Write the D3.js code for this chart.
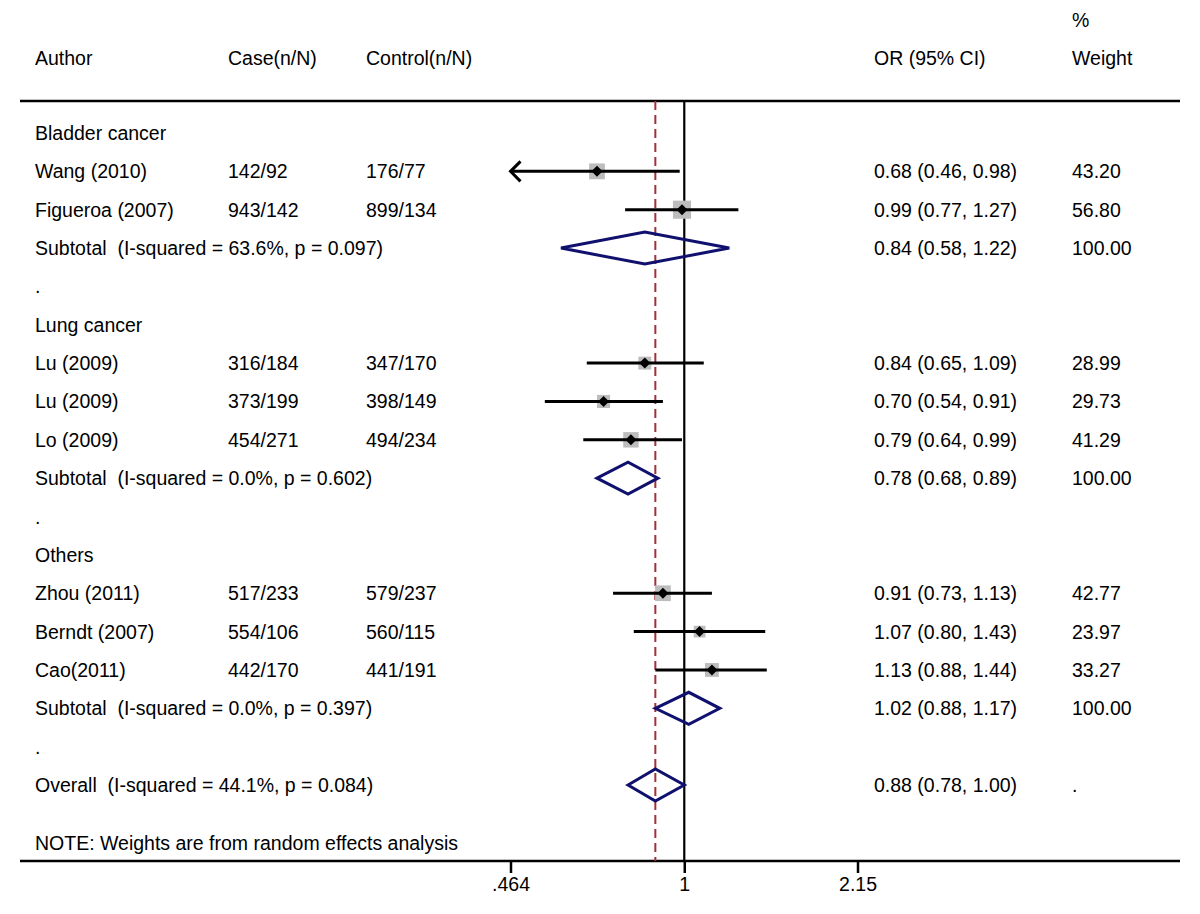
<!DOCTYPE html>
<html>
<head>
<meta charset="utf-8">
<script src="https://cdn.jsdelivr.net/npm/d3@7"></script>
<style>
  html, body { margin: 0; padding: 0; background: #fff; }
  svg text { font-family: "Liberation Sans", Arial, Helvetica, sans-serif; white-space: pre; }
</style>
</head>
<body>
<svg id="chart" width="1200" height="914"></svg>
<script>
// ---------- data ----------
const groupNames = ["Bladder cancer", "Lung cancer", "Others"];
const authors = ["Wang (2010)", "Figueroa (2007)", "Lu (2009)", "Lu (2009)", "Lo (2009)", "Zhou (2011)", "Berndt (2007)", "Cao(2011)"];
const studyGroup = [0, 0, 1, 1, 1, 2, 2, 2];
const caseCounts = ["142/92", "943/142", "316/184", "373/199", "454/271", "517/233", "554/106", "442/170"];
const controlCounts = ["176/77", "899/134", "347/170", "398/149", "494/234", "579/237", "560/115", "441/191"];
const studyOR = [0.68, 0.99, 0.84, 0.70, 0.79, 0.91, 1.07, 1.13];
const studyLow = [0.46, 0.77, 0.65, 0.54, 0.64, 0.73, 0.80, 0.88];
const studyHigh = [0.98, 1.27, 1.09, 0.91, 0.99, 1.13, 1.43, 1.44];
const studyWeight = ["43.20", "56.80", "28.99", "29.73", "41.29", "42.77", "23.97", "33.27"];

const subtotalLabels = ["Subtotal  (I-squared = 63.6%, p = 0.097)", "Subtotal  (I-squared = 0.0%, p = 0.602)", "Subtotal  (I-squared = 0.0%, p = 0.397)"];
const subtotalOR = [0.84, 0.78, 1.02];
const subtotalLow = [0.58, 0.68, 0.88];
const subtotalHigh = [1.22, 0.89, 1.17];
const subtotalWeight = ["100.00", "100.00", "100.00"];

const overallLabel = "Overall  (I-squared = 44.1%, p = 0.084)";
const overallOR = 0.88, overallLow = 0.78, overallHigh = 1.00, overallWeight = ".";

const headers = ["Author", "Case(n/N)", "Control(n/N)", "OR (95% CI)", "Weight"];
const tickValues = [0.464, 1, 2.15];
const tickLabels = [".464", "1", "2.15"];
const noteText = "NOTE: Weights are from random effects analysis";

// ---------- layout ----------
const svg = d3.select("#chart");
const fs = 19.5;
const colX = { author: 35, cas: 228, ctrl: 366, ci: 874, wt: 1072 };
const lineTop = 101, lineBottom = 861;

const x = d3.scaleLog().domain([0.464, 2.15]).range([510.5, 857.5]);
const y = d3.scaleLinear().domain([0, 17]).range([133, 785]);
const fmt = d3.format(".2f");
const ciText = (o, l, h) => `${fmt(o)} (${fmt(l)}, ${fmt(h)})`;

// build rows
const rows = [];
let r = 0;
groupNames.forEach((g, gi) => {
  rows.push({ type: "group", row: r++, label: g });
  studyGroup.forEach((sg, i) => {
    if (sg === gi) rows.push({ type: "study", row: r++, i });
  });
  rows.push({ type: "subtotal", row: r++, gi });
  rows.push({ type: "dot", row: r++ });
});
rows.push({ type: "overall", row: r++ });

// box size ~ sqrt(weight)
const boxSide = d3.scaleSqrt().domain([0, 100]).range([0, 24]);

const tOff = 7;
// ---------- headers ----------
const hY = 58 + tOff;
svg.append("text").attr("x", colX.author).attr("y", hY).attr("font-size", fs).text(headers[0]);
svg.append("text").attr("x", colX.cas).attr("y", hY).attr("font-size", fs).text(headers[1]);
svg.append("text").attr("x", colX.ctrl).attr("y", hY).attr("font-size", fs).text(headers[2]);
svg.append("text").attr("x", colX.ci).attr("y", hY).attr("font-size", fs).text(headers[3]);
svg.append("text").attr("x", colX.wt).attr("y", 20 + tOff).attr("font-size", fs).text("%");
svg.append("text").attr("x", colX.wt).attr("y", hY).attr("font-size", fs).text(headers[4]);

// ---------- frame lines ----------
svg.append("line").attr("x1", 20).attr("x2", 1180).attr("y1", lineTop).attr("y2", lineTop)
  .attr("stroke", "#000").attr("stroke-width", 2.5);
svg.append("line").attr("x1", 20).attr("x2", 1180).attr("y1", lineBottom).attr("y2", lineBottom)
  .attr("stroke", "#000").attr("stroke-width", 2.5);

// null line
svg.append("line").attr("x1", x(1)).attr("x2", x(1)).attr("y1", lineTop).attr("y2", lineBottom)
  .attr("stroke", "#000").attr("stroke-width", 2.2);
// overall dashed line
svg.append("line").attr("x1", x(overallOR)).attr("x2", x(overallOR)).attr("y1", lineTop).attr("y2", lineBottom)
  .attr("stroke", "#a0303a").attr("stroke-width", 2).attr("stroke-dasharray", "9,5");

// ---------- axis ----------
const axis = d3.axisBottom(x).tickValues(tickValues).tickFormat((d, i) => tickLabels[i]).tickSize(12).tickPadding(4);
const ax = svg.append("g").attr("transform", `translate(0,${lineBottom})`).call(axis);
ax.select(".domain").remove();
ax.selectAll(".tick line").attr("stroke", "#000").attr("stroke-width", 2.5);
ax.selectAll(".tick text").attr("font-size", fs).attr("font-family", "Liberation Sans, Arial, sans-serif").attr("fill", "#000");

// ---------- rows ----------
function textRow(row, label, cas, ctrl, ci, wt) {
  const yy = y(row) + tOff;
  if (label != null) svg.append("text").attr("x", colX.author).attr("y", yy).attr("font-size", fs).text(label);
  if (cas != null) svg.append("text").attr("x", colX.cas).attr("y", yy).attr("font-size", fs).text(cas);
  if (ctrl != null) svg.append("text").attr("x", colX.ctrl).attr("y", yy).attr("font-size", fs).text(ctrl);
  if (ci != null) svg.append("text").attr("x", colX.ci).attr("y", yy).attr("font-size", fs).text(ci);
  if (wt != null) svg.append("text").attr("x", colX.wt).attr("y", yy).attr("font-size", fs).text(wt);
}

function diamond(row, o, l, h) {
  const yy = y(row), hh = 16;
  const pts = [[x(l), yy], [x(o), yy - hh], [x(h), yy], [x(o), yy + hh]];
  svg.append("polygon").attr("points", pts.map(p => p.join(",")).join(" "))
    .attr("fill", "none").attr("stroke", "#10106e").attr("stroke-width", 3).attr("stroke-linejoin", "miter");
}

const [xMin, xMax] = x.range();
rows.forEach(d => {
  if (d.type === "group") textRow(d.row, d.label);
  else if (d.type === "dot") textRow(d.row, ".");
  else if (d.type === "study") {
    const i = d.i, yy = y(d.row);
    textRow(d.row, authors[i], caseCounts[i], controlCounts[i], ciText(studyOR[i], studyLow[i], studyHigh[i]), studyWeight[i]);
    const s = boxSide(+studyWeight[i]);
    svg.append("rect").attr("x", x(studyOR[i]) - s / 2).attr("y", yy - s / 2)
      .attr("width", s).attr("height", s).attr("fill", "#bdbdbd");
    const lowClipped = x(studyLow[i]) < xMin;
    const x1 = Math.max(x(studyLow[i]), xMin), x2 = Math.min(x(studyHigh[i]), xMax);
    svg.append("line").attr("x1", x1).attr("x2", x2).attr("y1", yy).attr("y2", yy)
      .attr("stroke", "#000").attr("stroke-width", 3);
    if (lowClipped) {
      svg.append("path").attr("d", `M${x1 + 10},${yy - 10}L${x1},${yy}L${x1 + 10},${yy + 10}`)
        .attr("fill", "none").attr("stroke", "#000").attr("stroke-width", 3);
    }
    const m = 5.5, cx = x(studyOR[i]);
    svg.append("polygon").attr("points", `${cx - m},${yy} ${cx},${yy - m} ${cx + m},${yy} ${cx},${yy + m}`)
      .attr("fill", "#000");
  } else if (d.type === "subtotal") {
    const gi = d.gi;
    textRow(d.row, subtotalLabels[gi], null, null, ciText(subtotalOR[gi], subtotalLow[gi], subtotalHigh[gi]), subtotalWeight[gi]);
    diamond(d.row, subtotalOR[gi], subtotalLow[gi], subtotalHigh[gi]);
  } else if (d.type === "overall") {
    textRow(d.row, overallLabel, null, null, ciText(overallOR, overallLow, overallHigh), overallWeight);
    diamond(d.row, overallOR, overallLow, overallHigh);
  }
});

svg.append("text").attr("x", colX.author).attr("y", y(18.5) + tOff).attr("font-size", fs).text(noteText);
</script>
</body>
</html>
